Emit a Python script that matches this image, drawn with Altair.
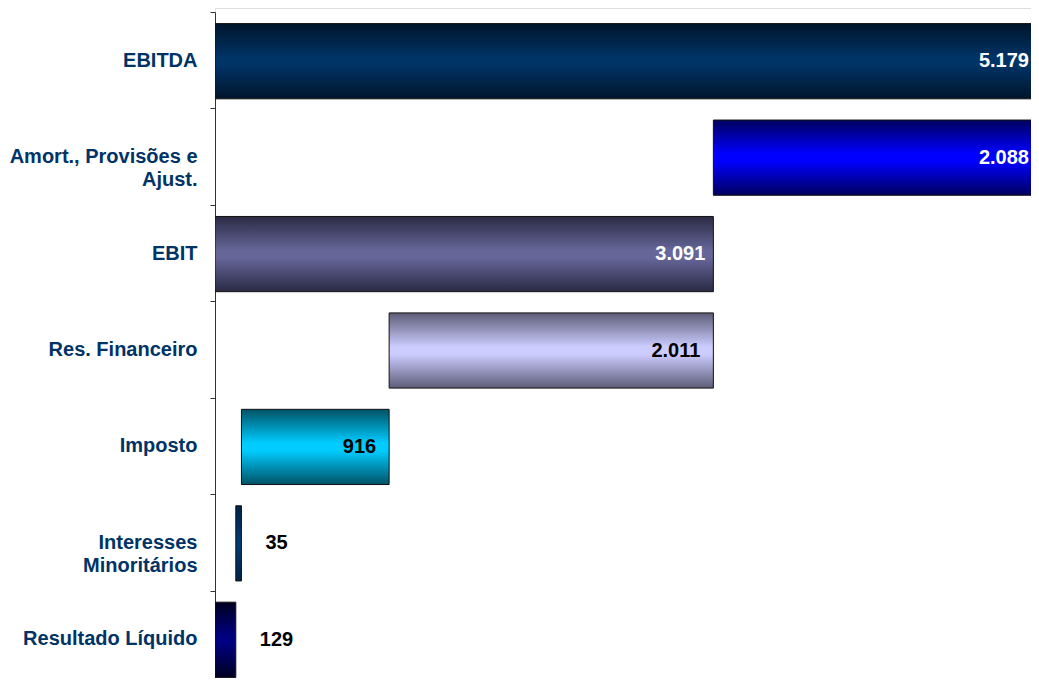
import altair as alt
import pandas as pd

# ---- data ----
categories = ["EBITDA", "Amort., Provisões e|Ajust.", "EBIT", "Res. Financeiro",
              "Imposto", "Interesses|Minoritários", "Resultado Líquido"]
values = [5179, 2088, 3091, 2011, 916, 35, 129]
kinds = ["total", "step", "total", "step", "step", "step", "total"]
centre_colors = ["#003366", "#0000ff", "#666699", "#ccccff", "#00ccff", "#003a70", "#000080"]
edge_colors = ["#00152b", "#00005e", "#2a2a44", "#5c5c78", "#005266", "#002247", "#000020"]
label_colors = ["white", "white", "white", "black", "black", "black", "black"]
label_inside = [True, True, True, True, True, False, False]

# waterfall start / end
starts, ends = [], []
level = 0
for v, k in zip(values, kinds):
    if k == "total":
        s, e = 0, v
    else:
        s, e = level - v, level
    starts.append(s)
    ends.append(e)
    level = s if k == "step" else e

df = pd.DataFrame({
    "cat": categories,
    "start": starts,
    "end": ends,
    "value": values,
    "label": [f"{v:,}".replace(",", ".") for v in values],
    "lcolor": label_colors,
    "inside": label_inside,
})

FONT = "Liberation Sans"
FS = 20
XMAX = 5061
xscale = alt.Scale(domain=[0, XMAX], nice=False, zero=False)
yenc = alt.Y("cat:N", sort=categories, title=None,
             scale=alt.Scale(paddingInner=0, paddingOuter=0, range=[4, 679]),
             axis=alt.Axis(labelExpr="split(datum.label, '|')", grid=False,
                           labelFont=FONT, labelFontSize=FS, labelFontWeight="bold",
                           labelColor="#003366", labelLimit=300, labelLineHeight=23,
                           labelPadding=13, tickSize=5, tickBand="extent",
                           tickColor="#333333", domainColor="#333333",
                           labelAlign="right", labelBaseline="middle"))

base = alt.Chart(df)
layers = []
for i, cat in enumerate(categories):
    grad = alt.Gradient(
        gradient="linear", x1=0, x2=0, y1=0, y2=1,
        stops=[alt.GradientStop(offset=0, color=edge_colors[i]),
               alt.GradientStop(offset=0.45, color=centre_colors[i]),
               alt.GradientStop(offset=0.55, color=centre_colors[i]),
               alt.GradientStop(offset=1, color=edge_colors[i])])
    layer = base.transform_filter(alt.datum.cat == cat).mark_bar(
        color=grad, stroke="#111111", strokeWidth=1, clip=True,
        height={"band": 0.78}, yOffset=1
    ).encode(
        x=alt.X("start:Q", scale=xscale, axis=None),
        x2="end:Q",
        y=yenc,
    )
    layers.append(layer)

def value_text(filter_expr, align, dx):
    return base.transform_filter(filter_expr).transform_calculate(
        lx=f"min(datum.end, {XMAX})"
    ).mark_text(
        align=align, baseline="middle", dx=dx, dy=1, font=FONT, fontSize=FS,
        fontWeight="bold"
    ).encode(
        x=alt.X("lx:Q", scale=xscale, axis=None),
        y=yenc,
        text="label:N",
        color=alt.Color("lcolor:N", scale=None),
    )

edge_text = value_text(f"datum.inside && datum.end > {XMAX}", "right", -2)
white_text = value_text(f"datum.inside && datum.lcolor == 'white' && datum.end <= {XMAX}", "right", -8)
black_text = value_text("datum.inside && datum.lcolor == 'black'", "right", -13)
outside_text = value_text("!datum.inside", "left", 24)

chart = alt.layer(*layers, edge_text, white_text, black_text, outside_text).properties(
    width=816, height=670,
    padding={"left": 207, "top": 0, "right": 0, "bottom": 0},
    autosize="none",
).configure_view(strokeWidth=0, stroke="transparent").configure(background="white")

chart.save("out.html", embed_options={"renderer": "svg", "actions": False})
